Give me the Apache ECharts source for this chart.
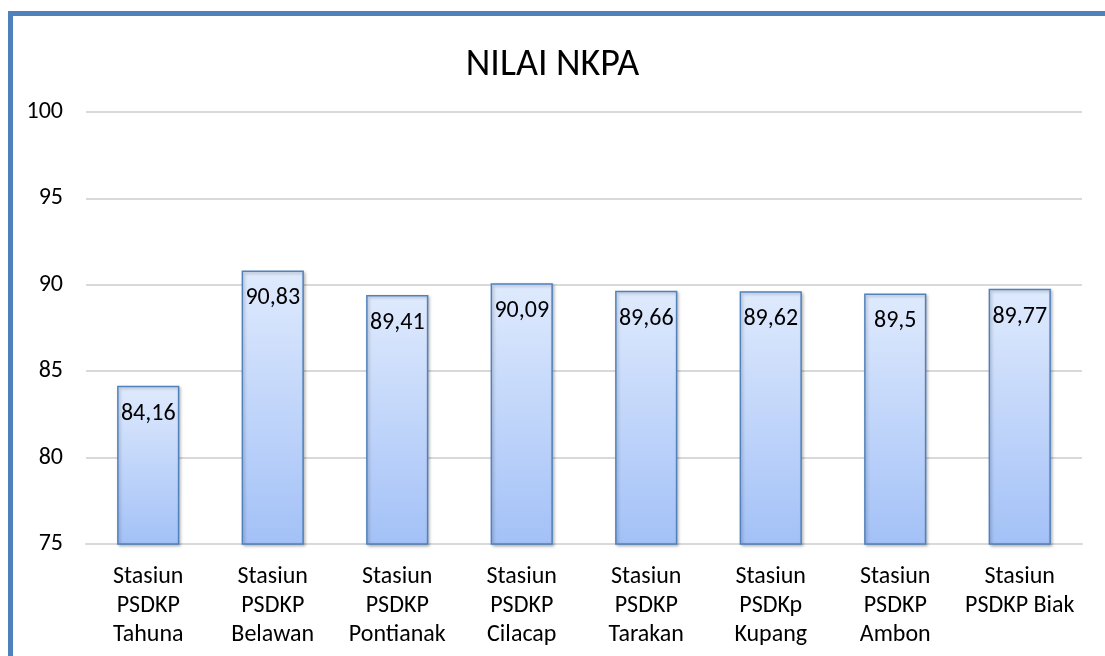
<!DOCTYPE html>
<html>
<head>
<meta charset="utf-8">
<script src="https://cdn.jsdelivr.net/npm/echarts@6/dist/echarts.min.js"></script>
<style>
html,body{margin:0;padding:0;background:#fff;}
#frame{position:absolute;left:8px;top:11px;width:1200px;height:800px;border-left:5px solid #4f81bd;border-top:5px solid #4f81bd;box-sizing:border-box;}
#chart{position:absolute;left:0;top:0;width:1105px;height:656px;}
</style>
</head>
<body>
<div id="frame"></div>
<div id="chart"></div>
<script>
var categories = ["Stasiun\nPSDKP\nTahuna","Stasiun\nPSDKP\nBelawan","Stasiun\nPSDKP\nPontianak","Stasiun\nPSDKP\nCilacap","Stasiun\nPSDKP\nTarakan","Stasiun\nPSDKp\nKupang","Stasiun\nPSDKP\nAmbon","Stasiun\nPSDKP Biak"];
var values = [84.16, 90.83, 89.41, 90.09, 89.66, 89.62, 89.5, 89.77];
var yMin = 75, yMax = 100, yStep = 5;
var titleText = "NILAI NKPA";

var chart = echarts.init(document.getElementById('chart'), null, {renderer:'canvas'});
var font = "Carlito, 'Liberation Sans', 'DejaVu Sans', sans-serif";
chart.setOption({
  animation:false,
  backgroundColor:'transparent',
  title:{text:titleText,left:'center',top:41,textStyle:{fontFamily:font,fontSize:38,fontWeight:'normal',color:'#000'}},
  grid:{left:86,right:23,top:112,bottom:112},
  xAxis:{type:'category',data:categories,
    axisLine:{lineStyle:{color:'#d9d9d9',width:2}},
    axisTick:{show:false},
    axisLabel:{fontFamily:font,fontSize:24,color:'#000',lineHeight:29,margin:18,interval:0}},
  yAxis:{type:'value',min:yMin,max:yMax,interval:yStep,
    axisLine:{show:false},axisTick:{show:false},
    splitLine:{lineStyle:{color:'#d9d9d9',width:2}},
    axisLabel:{fontFamily:font,fontSize:24,color:'#000',margin:23}},
  series:[{type:'bar',data:values,barWidth:'50%',
    itemStyle:{
      color:new echarts.graphic.LinearGradient(0,0,0,1,[{offset:0,color:'#dfeafd'},{offset:1,color:'#a3c1f7'}]),
      borderColor:'#4f81bd',borderWidth:1.5,
      shadowColor:'rgba(0,0,0,0.25)',shadowBlur:3,shadowOffsetX:1.5,shadowOffsetY:1.5},
    label:{show:true,position:'insideTop',distance:16,fontFamily:font,fontSize:24,color:'#000',
      formatter:function(p){return String(p.value).replace('.',',');}}
  }]
});
</script>
</body>
</html>
